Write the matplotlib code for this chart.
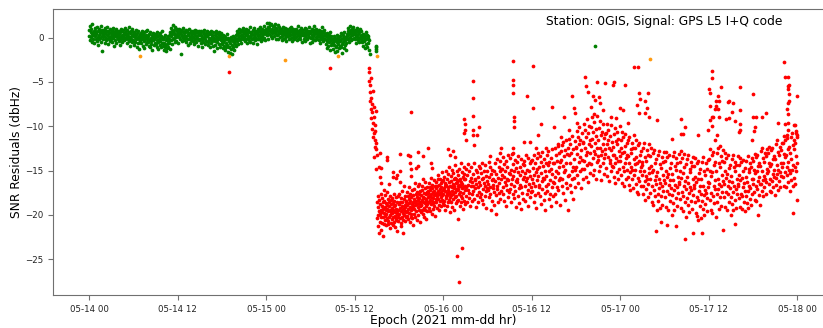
import numpy as np
import pandas as pd
import matplotlib
matplotlib.use("Agg")
import matplotlib.pyplot as plt
import matplotlib.dates as mdates

# SNR residuals (dBHz)
# green: nominal epochs every 3 min from 05-14 00:00
green_snr = [
    0.9, 0.2, 1.3, -0.3, 0.6, 0.1, 1.0, -0.5, 0.4, 1.5, 0.3, -0.1, 0.8, 0.5, -0.6, 1.1, 0.2, 0.7, -0.2, 0.4,
    0.6, -0.4, 1.2, 0.1, 0.8, -0.8, 0.3, 1.0, -0.2, 0.5, 0.0, 1.3, -0.5, 0.7, 0.2, -1.5, 0.9, 0.4, -0.1, 0.6,
    0.2, 0.9, -0.6, 0.5, 1.1, 0.0, -0.3, 0.7, 0.3, 1.2, -0.7, 0.4, 0.8, -0.1, 0.6, 0.1, 1.0, -0.4, 0.5, 0.2,
    -0.2, 0.6, 0.9, -0.5, 0.3, 1.1, 0.0, -0.9, 0.5, 0.2, 0.8, -0.3, 0.4, 1.0, -0.6, 0.1, 0.7, 0.3, -0.1, 0.5,
    0.4, -0.4, 0.8, 0.1, -0.8, 0.6, 1.0, -0.2, 0.3, 0.7, -0.5, 0.2, 0.9, 0.0, -0.3, 0.5, 1.1, -0.1, 0.4, 0.1,
    0.0, 0.7, -0.6, 0.4, 0.9, -0.2, 0.2, 1.2, -0.4, 0.6, 0.1, -0.9, 0.5, 0.8, -0.1, 0.3, 1.0, -0.5, 0.2, 0.6,
    -0.3, 0.4, -0.8, 0.6, 0.1, -0.5, 0.9, -0.1, 0.3, -1.0, 0.5, 0.0, -0.6, 0.7, -0.2, 0.2, -1.3, 0.4, -0.4, 0.1,
    0.3, -0.6, 0.5, -0.2, 0.8, -0.9, 0.1, 0.4, -0.4, 0.6, -1.2, 0.2, -0.1, 0.7, -0.7, 0.3, 0.0, -0.5, 0.9, -0.3,
    -0.5, 0.2, -0.9, 0.4, -0.2, -1.1, 0.6, -0.4, 0.0, -0.7, 0.3, -1.4, 0.1, -0.3, 0.5, -0.8, -0.1, 0.2, -0.6, 0.4,
    0.1, -0.7, 0.4, -0.3, -1.0, 0.6, -0.5, 0.2, -1.3, -0.1, 0.3, -0.8, 0.5, -0.4, 0.0, -1.1, 0.2, -0.6, 0.7, -0.2,
    -0.9, -0.2, -1.4, 0.1, -0.6, -1.1, 0.3, -0.8, -0.3, -1.5, 0.0, -0.7, -1.2, 0.2, -0.4, -1.0, -0.1, -0.6, 0.4, -1.3,
    0.6, -0.3, 1.1, 0.2, -0.7, 0.8, 0.4, 1.4, -0.2, 0.5, 0.0, 0.9, -0.5, 0.3, 1.2, 0.1, -0.4, 0.7, 0.4, 1.0,
    0.3, 0.8, -0.6, 0.5, 0.1, 1.0, -0.2, 0.6, -1.8, 0.4, 0.9, -0.4, 0.2, 0.7, 0.0, 1.1, -0.3, 0.5, 0.2, 0.8,
    0.0, 0.6, -0.5, 0.9, 0.2, -0.2, 0.7, 0.4, -0.8, 0.3, 1.0, -0.1, 0.5, 0.1, -0.6, 0.8, 0.2, -0.3, 0.6, 0.0,
    0.4, -0.4, 0.7, 0.1, -0.7, 0.5, 0.9, -0.2, 0.3, 0.6, -0.5, 0.0, 0.8, 0.2, -0.1, 0.5, -0.9, 0.3, 0.7, -0.3,
    -0.2, 0.5, -0.6, 0.3, 0.8, -0.3, 0.1, -1.0, 0.6, 0.0, -0.5, 0.4, 0.9, -0.1, 0.2, -0.7, 0.5, -0.4, 0.3, 0.7,
    0.2, -0.5, 0.6, -0.8, 0.0, 0.4, -0.3, -1.1, 0.5, -0.1, 0.8, -0.6, 0.1, -0.4, 0.3, -0.9, 0.6, -0.2, 0.0, -1.5,
    -0.4, 0.3, -0.8, 0.5, -0.1, 0.7, -0.5, 0.1, -1.2, 0.4, -0.2, 0.6, -0.7, 0.0, 0.3, -1.0, 0.2, -0.3, 0.5, -0.6,
    -0.7, 0.0, -1.2, 0.3, -0.5, -0.9, 0.2, -0.3, -1.4, 0.1, -0.6, -0.1, -1.0, 0.4, -0.8, -0.2, -1.6, 0.0, -0.4, -1.1,
    -1.0, -0.3, -1.7, -0.6, 0.1, -1.3, -0.2, -0.8, -1.9, -0.4, 0.2, -1.1, -0.5, -0.1, -1.4, 0.0, -0.7, -0.3, 0.3, -0.9,
    0.4, -0.4, 0.8, 0.0, -0.7, 0.5, 0.2, 1.0, -0.3, 0.6, -0.1, 0.3, 0.9, -0.6, 0.1, 0.7, -0.2, 0.4, 1.1, 0.0,
    0.1, 0.7, -0.4, 0.5, 1.0, -0.1, 0.3, 0.8, -0.6, 0.4, 0.0, 0.9, 0.2, -0.3, 0.6, 1.2, 0.1, -0.5, 0.5, 0.3,
    0.6, -0.2, 0.4, 0.9, 0.0, -0.6, 0.7, 0.3, 1.1, -0.3, 0.5, 0.1, 0.8, -0.1, 0.4, -0.7, 0.6, 1.0, 0.2, -0.2,
    0.3, 0.9, -0.2, 0.6, 1.2, 0.1, 0.5, -0.4, 0.8, 0.2, 1.0, -0.1, 0.4, 0.7, 1.3, 0.0, 0.6, -0.3, 0.9, 0.4,
    1.0, 0.3, 1.6, 0.6, 1.2, -0.1, 0.9, 1.7, 0.4, 1.1, 0.7, 1.4, 0.2, 0.8, 1.5, 0.5, 1.0, 0.0, 1.3, 0.6,
    0.8, 1.3, 0.2, 1.0, 0.5, 1.5, -0.2, 0.7, 1.1, 0.3, 0.9, 1.4, 0.4, -0.1, 1.2, 0.6, 0.8, 0.1, 1.0, 0.5,
    0.5, 1.0, -0.3, 0.7, 0.2, 1.2, 0.4, -0.1, 0.9, 0.6, 1.1, 0.0, 0.3, 0.8, -0.4, 0.5, 1.0, 0.2, 0.7, 0.4,
    0.2, 0.8, 0.5, -0.2, 1.1, 0.3, 0.7, 0.0, 1.2, 0.4, -0.4, 0.9, 0.6, 0.1, 1.0, 0.3, -0.1, 0.7, 0.5, 0.9,
    0.6, 0.1, 1.0, 0.4, -0.3, 0.8, 0.3, 1.3, 0.0, 0.7, 0.5, -0.2, 0.9, 0.2, 1.1, 0.4, 0.6, -0.5, 0.8, 0.3,
    0.3, 0.9, -0.1, 0.5, 1.1, 0.2, -0.4, 0.7, 0.4, 1.0, 0.0, 0.6, -0.2, 0.8, 0.3, 1.2, 0.1, 0.5, -0.6, 0.7,
    0.5, 0.0, 0.8, 0.3, -0.5, 1.0, 0.2, 0.6, -0.1, 0.9, 0.4, 1.3, -0.3, 0.5, 0.1, 0.7, 1.0, -0.2, 0.4, 0.6,
    0.2, 0.7, -0.3, 0.5, 0.9, -0.6, 0.3, 0.1, 0.8, -0.1, 0.4, 1.2, 0.0, -0.4, 0.6, 0.2, 0.9, -0.2, 0.5, 0.3,
    -0.1, 0.4, -0.7, 0.2, -0.4, -1.2, 0.5, -0.2, 0.1, -0.9, 0.3, -0.5, -1.4, 0.0, 0.6, -0.3, -0.8, 0.2, -0.6, -0.1,
    -0.6, -0.1, -1.3, 0.2, -0.8, -0.4, -1.6, 0.0, -0.9, -0.3, -1.1, 0.3, -0.5, -1.5, -0.2, -0.7, 0.1, -1.2, -0.4, -0.9,
    -0.4, 0.2, -1.0, -0.2, 0.5, -0.7, -1.7, 0.0, -0.5, 0.3, -1.2, -0.1, 0.6, -0.8, -0.3, 0.1, -1.4, -0.6, 0.4, -0.2,
    0.2, 0.8, -0.2, 1.1, 0.4, -0.5, 0.7, 1.3, 0.1, 0.5, -0.3, 0.9, 0.3, 1.0, -0.1, 0.6, 1.2, 0.0, 0.4, 0.8,
    0.5, -0.1, 0.9, 0.2, -0.6, 0.7, 0.3, 1.1, -0.3, 0.4, 0.0, 0.8, -0.5, 0.6, 0.1, 1.0, -0.2, 0.3, 0.7, -0.4,
    0.1, -0.5, 0.4, -0.9, 0.0, 0.3, -0.4, -1.2, 0.2, -0.2, 0.6, -0.7, -0.1, 0.3, -1.0, 0.0, -0.6, 0.2, -0.3, -1.4,
]

# red: signal drop, epochs every 2.5 min from 05-15 13:54
red_drop = [-3.4, -4.9, -3.9, -6.1, -5.3, -7.2, -4.6, -8.0, -6.8, -9.1, -7.5, -10.3, -8.4,
            -6.0, -9.6, -11.2, -8.9, -10.8, -7.8, -11.6, -9.9, -12.3, -10.5, -8.3, -11.9, -12.6]

# red: epochs every 2 min from 05-15 15:00
red_a = [
    -18.6, -20.4, -13.2, -19.1, -21.3, -17.9, -20.0, -14.6, -19.6, -18.3, -22.1, -19.9, -15.7, -20.8, -18.8,
    -19.4, -21.7, -17.6, -20.3, -16.4, -19.0, -18.1, -20.9, -19.7, -22.4, -18.5, -20.2, -19.3, -17.2, -21.0,
    -19.8, -18.4, -20.6, -19.1, -17.8, -20.1, -19.5, -21.2, -18.7, -19.9, -17.4, -20.4, -18.9, -19.3, -21.0,
    -18.2, -20.7, -19.6, -16.5, -19.0, -20.3, -18.6, -21.5, -19.4, -17.9, -20.0, -18.8, -19.7, -20.9, -18.3,
    -19.2, -20.5, -18.1, -19.8, -21.1, -18.7, -20.2, -19.5, -17.6, -20.8, -19.0, -18.4, -21.4, -19.7, -20.1,
    -18.9, -15.8, -20.6, -19.3, -18.0, -20.4, -19.6, -21.8, -18.6, -19.9, -20.3, -17.9, -19.4, -20.7, -18.8,
    -18.8, -19.9, -17.7, -20.4, -19.2, -15.1, -18.5, -20.9, -19.6, -18.1, -21.3, -19.0, -20.2, -18.6, -17.3,
    -19.8, -20.6, -22.0, -19.3, -18.2, -20.0, -19.5, -16.8, -18.9, -20.7, -19.1, -17.9, -20.3, -18.4, -19.7,
    -18.5, -19.6, -17.4, -20.1, -18.9, -13.3, -19.3, -17.9, -20.5, -18.2, -19.8, -16.9, -18.7, -20.8, -19.1,
    -17.6, -18.4, -20.2, -19.5, -15.6, -18.0, -19.9, -17.2, -18.8, -20.4, -19.2, -17.8, -18.6, -21.1, -19.0,
    -18.2, -19.3, -17.1, -19.9, -18.6, -16.4, -18.9, -20.3, -17.7, -18.4, -19.6, -14.7, -18.0, -20.6, -18.8,
    -17.4, -19.1, -18.3, -20.0, -16.8, -18.7, -19.4, -17.6, -18.1, -20.8, -19.0, -17.3, -18.5, -19.7, -18.9,
    -17.8, -18.9, -16.7, -19.5, -18.3, -17.2, -19.9, -18.0, -15.9, -18.6, -19.2, -17.5, -18.1, -20.2, -17.0,
    -18.7, -19.4, -16.3, -18.4, -17.7, -19.0, -18.2, -20.5, -17.4, -18.8, -16.9, -19.6, -18.0, -17.3, -18.5,
    -17.5, -18.6, -16.4, -19.2, -17.9, -16.9, -18.3, -19.6, -17.2, -18.0, -15.8, -18.8, -17.6, -19.9, -17.0,
    -18.4, -16.6, -18.1, -19.3, -17.4, -18.7, -16.1, -17.8, -19.0, -17.3, -18.5, -20.1, -17.7, -16.8, -18.2,
    -17.0, -18.6, -16.3, -17.9, -19.2, -16.8, -17.5, -15.5, -18.2, -17.3, -16.0, -18.9, -17.7, -16.6, -19.5,
    -17.1, -18.4, -15.9, -17.6, -18.0, -16.4, -19.0, -17.4, -16.9, -18.3, -15.2, -17.8, -16.2, -18.7, -17.2,
    -17.6, -16.1, -18.4, -17.0, -15.7, -18.9, -16.8, -17.3, -19.4, -16.4, -17.9, -15.0, -18.1, -16.6, -17.5,
    -19.0, -16.0, -17.8, -18.6, -15.4, -17.2, -16.9, -18.3, -14.6, -17.4, -16.3, -19.7, -17.7, -16.7, -18.0,
    -16.2, -17.8, -15.6, -18.5, -16.9, -14.9, -17.3, -19.1, -16.5, -17.6, -15.3, -18.2, -16.0, -17.0, -19.5,
    -16.7, -15.8, -18.0, -17.4, -14.4, -16.4, -18.7, -17.1, -15.9, -17.9, -16.3, -18.4, -15.1, -17.2, -16.8,
    -17.1, -15.5, -18.3, -16.6, -14.8, -17.7, -16.1, -19.0, -15.9, -17.4, -16.8, -18.6, -14.2, -16.3, -17.9,
    -15.2, -17.0, -18.1, -16.5, -15.7, -19.3, -16.9, -17.5, -14.6, -16.0, -18.4, -15.4, -17.2, -16.7, -18.8,
]

# red: epochs every 3 min from 05-16 03:00
red_b = [
    -16.0, -17.9, -14.8, -16.9, -18.6, -15.5, -17.2, -14.3, -16.6, -18.1, -15.1, -17.5, -16.2, -19.0, -15.8, -16.8, -14.6, -17.7, -16.3, -18.4,
    -15.4, -17.3, -16.7, -14.2, -18.2, -15.9, -17.0, -16.1, -19.1, -14.9, -16.5, -17.8, -15.2, -16.9, -18.5, -15.7, -14.5, -17.4, -16.3, -18.0,
    -16.6, -14.7, -17.6, -15.3, -18.3, -16.0, -14.1, -17.1, -15.8, -18.8, -16.4, -15.0, -17.9, -16.8, -14.4, -17.3, -15.6, -19.2, -16.2, -17.0,
    -15.1, -17.2, -16.5, -14.0, -18.0, -15.7, -16.9, -14.6, -17.7, -19.5, -15.4, -16.1, -18.4, -14.9, -17.0, -15.9, -16.6, -18.9, -15.0, -17.4,
    -16.2, -14.1, -17.8, -15.4, -19.9, -16.7, -13.7, -17.1, -15.8, -18.5, -14.6, -16.4, -17.5, -15.1, -13.9, -18.2, -16.0, -14.8, -17.3, -15.5,
    -14.8, -16.9, -13.5, -17.6, -15.7, -18.4, -14.3, -16.3, -15.1, -19.0, -13.9, -16.6, -17.2, -14.6, -15.9, -18.0, -13.2, -16.1, -15.3, -17.4,
    -15.4, -17.1, -13.6, -16.5, -18.6, -14.9, -16.0, -13.1, -17.7, -15.6, -14.3, -18.1, -16.8, -15.0, -17.3, -13.8, -16.2, -19.1, -14.7, -15.9,
    -16.3, -14.0, -17.9, -15.2, -13.4, -17.0, -18.7, -14.6, -16.6, -15.5, -19.3, -13.7, -16.9, -15.0, -17.5, -14.3, -16.0, -18.2, -15.7, -13.9,
    -14.4, -16.8, -15.3, -18.4, -13.2, -16.2, -17.6, -14.9, -15.8, -19.0, -13.6, -17.2, -15.1, -16.5, -14.1, -18.0, -15.6, -13.9, -16.9, -17.4,
    -15.9, -13.8, -17.3, -14.7, -16.4, -18.6, -13.3, -15.5, -17.8, -14.2, -16.7, -15.2, -19.2, -13.6, -16.1, -14.8, -17.5, -15.6, -13.0, -16.9,
    -14.6, -16.6, -13.4, -17.9, -15.3, -18.8, -14.0, -16.2, -12.9, -17.1, -15.8, -14.5, -18.3, -16.0, -13.7, -17.5, -15.1, -19.4, -14.2, -16.8,
    -15.6, -13.2, -17.3, -14.4, -16.5, -12.8, -18.2, -15.0, -14.0, -17.7, -16.1, -13.6, -19.0, -14.8, -16.9, -12.6, -15.4, -17.9, -14.2, -16.3,
    -14.2, -16.4, -12.5, -15.7, -17.6, -13.3, -15.0, -18.5, -13.9, -16.9, -12.2, -15.3, -17.2, -14.6, -13.0, -16.1, -18.9, -14.0, -15.8, -12.8,
    -13.8, -15.9, -12.1, -16.8, -14.5, -11.8, -17.5, -13.4, -15.2, -18.3, -12.7, -14.9, -16.4, -11.5, -14.1, -17.0, -13.1, -15.6, -19.4, -12.4,
    -13.3, -15.5, -11.4, -16.6, -14.2, -12.0, -17.4, -13.0, -15.1, -11.1, -16.0, -14.6, -12.6, -18.2, -13.7, -15.8, -11.7, -14.9, -16.9, -12.3,
    -12.4, -14.6, -10.5, -15.5, -13.1, -11.2, -16.4, -12.0, -14.0, -10.1, -15.1, -13.5, -11.6, -17.0, -12.7, -14.8, -10.8, -13.8, -16.0, -11.9,
    -11.8, -13.9, -9.7, -14.8, -12.5, -10.4, -15.7, -11.2, -13.3, -9.2, -14.4, -12.9, -10.8, -16.3, -12.0, -14.1, -10.0, -13.0, -15.3, -11.5,
    -12.2, -10.1, -14.3, -11.4, -9.0, -13.6, -15.5, -10.7, -12.8, -9.5, -14.9, -11.9, -13.1, -10.3, -16.0, -11.1, -12.5, -8.8, -14.0, -13.4,
    -11.6, -13.8, -10.2, -15.0, -12.4, -9.4, -14.5, -11.0, -13.2, -16.1, -10.6, -12.8, -14.1, -9.8, -12.0, -15.4, -11.3, -13.6, -10.9, -12.6,
    -13.1, -10.8, -14.7, -12.0, -9.7, -15.6, -11.5, -13.5, -10.4, -16.2, -12.4, -14.2, -11.1, -13.8, -9.9, -15.0, -12.7, -11.8, -14.5, -13.3,
    -12.3, -14.6, -10.9, -15.7, -13.2, -10.2, -14.1, -16.4, -11.7, -13.6, -12.0, -15.2, -10.6, -13.9, -16.0, -11.4, -14.8, -12.8, -10.0, -13.4,
    -13.9, -11.6, -15.5, -12.5, -10.6, -16.4, -13.0, -14.6, -11.2, -16.8, -12.9, -15.1, -10.9, -14.2, -12.2, -15.9, -13.6, -11.9, -14.9, -13.3,
    -13.4, -15.7, -11.6, -16.6, -14.1, -11.2, -15.2, -17.2, -12.6, -14.6, -13.0, -16.0, -11.9, -14.9, -17.0, -12.4, -15.5, -13.7, -11.0, -14.3,
    -14.9, -12.5, -16.5, -13.5, -11.6, -17.4, -14.2, -15.8, -12.1, -17.7, -13.9, -16.2, -11.9, -15.1, -13.2, -16.8, -14.6, -12.8, -15.5, -14.0,
    -14.4, -16.8, -12.4, -17.6, -15.1, -11.9, -16.2, -18.3, -13.5, -15.6, -13.9, -17.1, -12.7, -15.9, -18.0, -13.2, -16.5, -14.7, -12.0, -15.3,
    -15.9, -13.4, -17.5, -14.5, -12.4, -18.6, -15.2, -16.8, -13.0, -18.9, -14.9, -17.2, -12.7, -16.1, -14.2, -17.9, -15.6, -13.7, -16.5, -19.5,
    -15.2, -17.6, -13.2, -18.4, -15.9, -12.8, -17.0, -19.2, -14.3, -16.4, -14.7, -17.9, -13.5, -16.7, -18.9, -14.0, -17.3, -15.5, -12.9, -16.1,
    -16.4, -13.9, -18.0, -15.0, -12.9, -19.1, -15.7, -17.3, -13.5, -19.5, -15.4, -17.7, -13.2, -16.6, -14.7, -18.4, -16.1, -14.2, -17.0, -20.0,
    -15.4, -17.8, -13.4, -18.7, -16.1, -12.9, -17.2, -19.4, -14.5, -16.6, -14.9, -18.1, -13.6, -16.9, -19.0, -14.2, -17.5, -15.7, -13.1, -16.3,
    -16.5, -14.0, -18.2, -15.1, -12.8, -19.2, -15.8, -17.4, -13.6, -19.6, -15.3, -17.9, -13.1, -16.7, -14.6, -18.5, -16.2, -14.3, -17.1, -20.2,
    -15.7, -18.1, -13.7, -18.9, -16.4, -13.3, -17.5, -19.7, -14.8, -16.9, -15.2, -18.4, -14.0, -17.2, -19.3, -14.5, -17.8, -16.0, -13.5, -16.6,
    -17.0, -14.5, -18.6, -15.7, -13.6, -19.8, -16.3, -18.0, -14.1, -20.1, -15.9, -18.3, -13.9, -17.3, -15.3, -19.0, -16.8, -14.8, -17.6, -20.4,
    -16.0, -18.4, -14.0, -19.3, -16.7, -13.5, -17.8, -20.0, -15.1, -17.2, -15.5, -18.8, -14.2, -17.5, -19.6, -14.8, -18.1, -16.3, -13.8, -16.9,
    -16.4, -13.7, -18.3, -15.0, -12.6, -19.4, -15.6, -17.5, -13.2, -19.8, -15.2, -17.9, -12.9, -16.8, -14.4, -18.7, -16.1, -14.0, -17.1, -20.3,
    -15.1, -17.7, -13.0, -18.6, -15.9, -12.4, -17.1, -19.3, -14.1, -16.5, -14.6, -18.0, -13.4, -16.7, -19.0, -13.9, -17.4, -15.5, -12.7, -16.2,
    -16.5, -14.0, -18.0, -15.1, -13.0, -19.1, -15.8, -17.4, -13.6, -19.4, -15.4, -17.7, -13.3, -16.7, -14.7, -18.5, -16.2, -14.4, -17.0, -20.0,
    -15.6, -18.0, -13.7, -18.8, -16.3, -13.2, -17.4, -19.5, -14.6, -16.8, -15.1, -18.3, -14.0, -17.1, -19.2, -14.4, -17.7, -15.9, -13.4, -16.5,
    -16.7, -14.4, -18.1, -15.5, -13.6, -19.1, -16.1, -17.6, -14.0, -19.3, -15.8, -17.9, -13.8, -16.9, -15.1, -18.6, -16.4, -14.7, -17.3, -19.6,
    -15.7, -17.9, -13.9, -18.7, -16.3, -13.4, -17.3, -19.2, -14.8, -16.8, -15.2, -18.2, -14.2, -17.0, -18.9, -14.6, -17.6, -15.9, -13.6, -16.5,
    -16.0, -13.9, -17.4, -14.9, -13.1, -18.3, -15.3, -16.8, -13.5, -18.4, -15.1, -17.1, -13.2, -16.2, -14.5, -17.8, -15.7, -14.1, -16.5, -18.9,
    -14.5, -16.5, -12.8, -17.3, -15.1, -12.4, -16.1, -17.9, -13.6, -15.6, -14.0, -16.9, -13.0, -15.9, -17.6, -13.4, -16.3, -14.8, -12.6, -15.3,
    -15.1, -13.0, -16.5, -14.1, -12.3, -17.3, -14.5, -16.0, -12.7, -17.4, -14.3, -16.2, -12.5, -15.4, -13.7, -16.9, -14.9, -13.4, -15.7, -17.8,
    -13.7, -15.8, -12.0, -16.6, -14.4, -11.6, -15.4, -17.2, -12.9, -14.9, -13.3, -16.2, -12.3, -15.2, -16.9, -12.7, -15.6, -14.1, -11.9, -14.6,
    -14.2, -11.9, -15.7, -13.1, -11.1, -16.7, -13.5, -15.2, -11.5, -16.9, -13.3, -15.5, -11.3, -14.6, -12.6, -16.3, -14.0, -12.3, -14.9, -17.3,
    -13.0, -15.3, -11.2, -16.1, -13.7, -10.8, -14.9, -16.8, -12.1, -14.4, -12.6, -15.8, -11.5, -14.6, -16.5, -11.9, -15.1, -13.4, -11.0, -14.1,
]

# scattered red points away from the main cloud: (hours after 05-14 00, dBHz)
red_out_h = [19.0, 32.6, 38.6, 38.9, 39.4, 39.5, 40.4, 40.4, 41.2, 41.2, 41.8, 42.1, 42.1, 43.5, 43.5, 43.6, 43.6,
             44.6, 44.6, 44.7, 45.9, 45.2, 46.4, 46.5, 48.6, 48.9, 49.3, 49.6, 50.0, 49.9, 50.6, 50.2,
             50.8, 50.9, 50.8, 51.0, 51.1, 52.0, 52.0, 52.0, 52.1, 52.1, 52.6, 52.8, 52.2, 54.3, 55.9, 55.7,
             57.5, 57.5, 57.5, 57.5, 57.6, 57.6, 57.6, 57.4, 57.5,
             60.2, 59.3, 60.2, 61.2, 60.8, 59.0, 59.8, 60.6,
             62.8, 63.0, 64.4, 65.5, 65.7, 65.8, 65.0, 64.0, 63.5, 62.0, 66.2,
             67.2, 67.3, 67.6, 68.0, 68.3, 68.6, 68.9, 69.1, 69.2, 69.9, 68.5, 69.6,
             70.7, 71.0, 71.2, 71.4, 72.0, 72.4, 72.6, 73.8, 74.4, 74.3, 74.5, 74.6, 74.7, 75.4, 75.7, 75.6, 75.9, 75.3, 77.0, 73.0,
             76.9, 78.3, 77.5, 80.8, 79.6, 80.3, 80.8, 80.2, 80.5, 82.5, 79.0, 81.8, 83.1, 82.5,
             84.4, 84.4, 84.0, 84.2, 85.6, 85.3, 85.4, 84.9, 84.6, 84.2, 84.4, 83.9, 85.1, 84.8, 85.5, 84.2, 85.0, 85.3, 84.5, 85.4, 85.0,
             86.7, 87.3, 86.6, 87.1, 86.8, 85.9, 88.2, 88.2, 88.2, 88.3, 88.1, 87.5, 86.4, 87.6,
             90.0, 90.0, 90.4, 91.2, 90.2, 90.1, 89.9, 91.8, 93.4, 90.7,
             94.2, 94.3, 94.7, 94.9, 94.8, 94.9, 94.7, 94.9, 94.8, 94.6, 94.8, 94.7, 95.7, 95.8, 94.3, 94.8, 94.6, 95.8, 96.0, 96.0,
             95.4, 95.9, 95.6]
red_out_snr = [-3.9, -3.4, -13.5, -14.8, -13.0, -14.7, -13.5, -13.8, -15.2, -15.7, -15.5, -16.3, -13.1, -13.4, -14.2, -8.4, -14.8,
               -12.9, -14.5, -16.5, -12.4, -13.4, -14.2, -14.7, -12.6, -13.3, -12.8, -13.5, -20.5, -24.6, -23.8, -27.6,
               -9.2, -9.7, -10.8, -10.4, -11.6, -4.9, -6.8, -8.8, -10.4, -11.0, -11.0, -10.1, -12.1, -13.4, -12.4, -13.0,
               -2.6, -4.8, -5.3, -6.3, -8.9, -9.4, -10.1, -12.4, -13.0,
               -3.2, -6.6, -7.9, -9.8, -11.0, -11.8, -11.8, -12.5,
               -7.8, -10.1, -8.9, -6.6, -7.9, -8.5, -10.4, -11.2, -12.0, -12.5, -9.6,
               -4.4, -5.5, -6.1, -7.8, -6.6, -7.0, -5.0, -6.7, -7.4, -5.1, -8.6, -8.2,
               -8.9, -5.4, -5.0, -9.1, -7.9, -8.2, -5.4, -3.3, -3.3, -7.6, -6.2, -8.5, -6.9, -7.2, -6.2, -7.9, -9.0, -8.5, -9.3, -9.6,
               -21.8, -21.2, -20.8, -22.7, -21.3, -9.2, -10.1, -10.9, -10.9, -11.0, -11.4, -22.0, -22.0, -20.6,
               -3.8, -4.5, -5.8, -6.2, -5.6, -6.6, -7.2, -8.1, -9.0, -9.3, -10.0, -10.4, -11.0, -11.6, -12.2, -7.7, -7.7, -8.0, -8.9, -8.9, -7.2,
               -7.1, -7.4, -7.3, -8.4, -9.1, -21.7, -5.6, -8.2, -9.8, -10.4, -10.6, -21.0, -9.2, -9.4,
               -6.4, -9.0, -9.0, -9.0, -10.1, -10.5, -11.6, -8.5, -9.6, -20.0,
               -2.7, -4.4, -4.4, -5.4, -5.8, -6.4, -5.5, -7.2, -7.4, -8.1, -8.6, -9.6, -9.9, -10.5, -9.8, -10.4, -11.0, -10.8, -11.2, -6.6,
               -19.8, -18.3, -9.9]

green_out_h = [38.05, 38.9, 38.9, 38.92, 38.92, 68.6]
green_out_snr = [-1.9, -0.9, -1.1, -1.3, -1.5, -0.9]

orange_h = [6.9, 18.9, 26.5, 33.8, 39.0, 76.0]
orange_snr = [-2.1, -2.1, -2.5, -2.1, -2.1, -2.4]

base = pd.Timestamp("2021-05-14 00:00")
t_green = pd.date_range(base, periods=len(green_snr), freq="3min")
t_drop = pd.date_range("2021-05-15 13:54", periods=len(red_drop), freq="150s")
t_red_a = pd.date_range("2021-05-15 15:00", periods=len(red_a), freq="2min")
t_red_b = pd.date_range("2021-05-16 03:00", periods=len(red_b), freq="3min")
t_red_out = base + pd.to_timedelta(red_out_h, unit="h")
t_green_out = base + pd.to_timedelta(green_out_h, unit="h")
t_orange = base + pd.to_timedelta(orange_h, unit="h")

fig = plt.figure(figsize=(8.23, 3.28), dpi=100)
ax = fig.add_axes([0.0648, 0.1006, 0.947, 0.871])

ms = 2.7
ax.plot(t_green, green_snr, 'o', color='green', ms=ms, mew=0)
ax.plot(t_green_out, green_out_snr, 'o', color='green', ms=ms, mew=0)
ax.plot(t_drop, red_drop, 'o', color='red', ms=ms, mew=0)
ax.plot(t_red_a, red_a, 'o', color='red', ms=ms, mew=0)
ax.plot(t_red_b, red_b, 'o', color='red', ms=ms, mew=0)
ax.plot(t_red_out, red_out_snr, 'o', color='red', ms=ms, mew=0)
ax.plot(t_orange, orange_snr, 'o', color='#ff9a10', ms=ms, mew=0)

ax.set_xlim(base - pd.Timedelta(hours=4.85), base + pd.Timedelta(hours=100.8))
ax.set_ylim(-29.05, 3.2)
ax.xaxis.set_major_locator(mdates.HourLocator(byhour=[0, 12]))
ax.xaxis.set_major_formatter(mdates.DateFormatter('%m-%d %H'))
ax.set_yticks([0, -5, -10, -15, -20, -25])

for s in ax.spines.values():
    s.set_color('#707070')
ax.tick_params(labelsize=6.2, colors='#707070', labelcolor='#222222', length=3.5)

ax.set_xlabel('Epoch (2021 mm-dd hr)', fontsize=8.8, labelpad=0.5)
ax.set_ylabel('SNR Residuals (dbHz)', fontsize=8.8, labelpad=2)
ax.text(0.935, 0.958, 'Station: 0GIS, Signal: GPS L5 I+Q code', transform=ax.transAxes,
        ha='right', va='center', fontsize=8.8)

fig.savefig('out.png', dpi=100)
